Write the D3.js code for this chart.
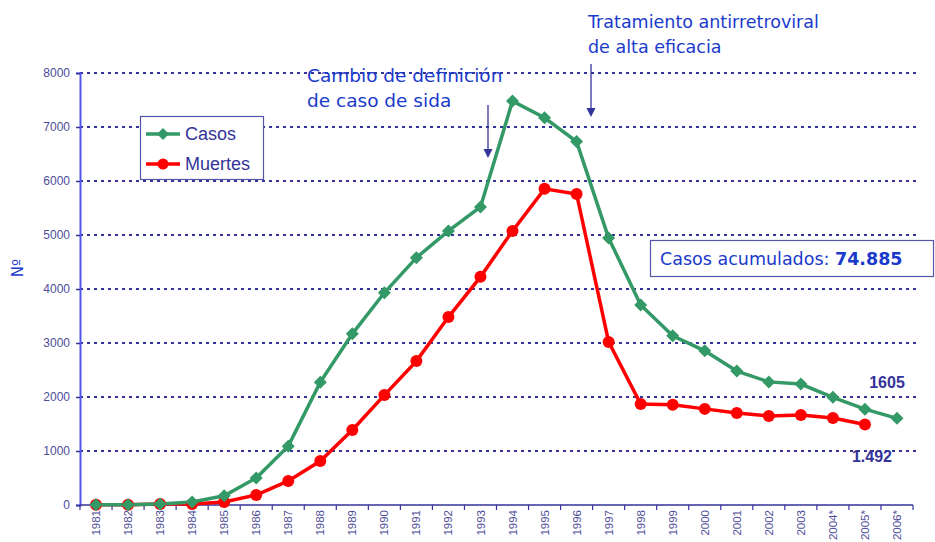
<!DOCTYPE html>
<html><head><meta charset="utf-8">
<script src="https://cdn.jsdelivr.net/npm/d3@7"></script>
<style>body{margin:0;background:#fff;}svg{display:block;}</style>
</head><body>
<script>
const years = ["1981","1982","1983","1984","1985","1986","1987","1988","1989","1990","1991","1992","1993","1994","1995","1996","1997","1998","1999","2000","2001","2002","2003","2004*","2005*","2006*"];
const casos = [5,5,20,55,170,500,1090,2275,3170,3930,4580,5075,5520,7480,7170,6730,4945,3705,3135,2855,2480,2280,2240,1995,1775,1605];
const muertes = [5,5,20,20,55,185,445,815,1390,2035,2665,3480,4225,5075,5855,5760,3020,1870,1855,1780,1705,1650,1668,1612,1492,null];
const yTicks = [0,1000,2000,3000,4000,5000,6000,7000,8000];

const W=935,H=542;
const svg=d3.select("body").append("svg").attr("width",W).attr("height",H);
const x=d3.scaleBand().domain(years).range([80,913]);
const y=d3.scaleLinear().domain([0,8000]).range([505,73]);
const gridC="#333399", labC="#4d4d99";

// gridlines
svg.append("g").selectAll("line").data(yTicks.filter(d=>d>0)).join("line")
 .attr("x1",80).attr("x2",918).attr("y1",d=>y(d)).attr("y2",d=>y(d))
 .attr("stroke",gridC).attr("stroke-width",2).attr("stroke-dasharray","3,4");

// y axis
const ya=svg.append("g").attr("transform","translate(80,0)").call(d3.axisLeft(y).tickValues(yTicks).tickSize(4).tickPadding(6).tickFormat(d3.format("d")));
ya.select(".domain").attr("stroke","#5555ee").attr("stroke-width",2);
ya.selectAll(".tick line").attr("stroke",gridC).attr("stroke-width",1.5);
ya.selectAll("text").attr("fill",labC).attr("font-family","Liberation Sans, Arial").attr("font-size",12);

// x axis
const xa=svg.append("g").attr("transform","translate(0,505)").call(d3.axisBottom(x).tickSize(0).tickPadding(0));
xa.select(".domain").remove();
svg.append("line").attr("x1",80).attr("x2",913).attr("y1",505).attr("y2",505).attr("stroke",gridC).attr("stroke-width",1.5);
svg.append("g").selectAll("line").data(years.concat(["end"])).join("line")
 .attr("x1",(d,i)=>80+i*x.step()).attr("x2",(d,i)=>80+i*x.step()).attr("y1",505).attr("y2",510)
 .attr("stroke",gridC).attr("stroke-width",1.2);
xa.selectAll("text").attr("fill",labC).attr("font-family","Liberation Sans, Arial").attr("font-size",11.5)
 .attr("transform","rotate(-90)").attr("text-anchor","end").attr("dx","-5px").attr("dy","0.35em").attr("y",0).attr("x",0);

// Nº
svg.append("text").attr("transform","translate(23,268) rotate(-90)").attr("text-anchor","middle")
 .attr("fill","#1a3acc").attr("font-family","DejaVu Sans, Verdana").attr("font-size",15).text("Nº");

const cx=d=>x(d)+x.bandwidth()/2;
const line=d3.line().defined(d=>d[1]!=null).x(d=>cx(d[0])).y(d=>y(d[1]));
const green="#339966", red="#ff0000";
svg.append("path").datum(years.map((d,i)=>[d,muertes[i]])).attr("d",line).attr("fill","none").attr("stroke",red).attr("stroke-width",3.5);
svg.append("path").datum(years.map((d,i)=>[d,casos[i]])).attr("d",line).attr("fill","none").attr("stroke",green).attr("stroke-width",3.5);
svg.append("g").selectAll("circle").data(years.map((d,i)=>[d,muertes[i]]).filter(d=>d[1]!=null)).join("circle")
 .attr("cx",d=>cx(d[0])).attr("cy",d=>y(d[1])).attr("r",6).attr("fill",red);
svg.append("g").selectAll("path").data(years.map((d,i)=>[d,casos[i]])).join("path")
 .attr("d","M0,-6.5L6.5,0L0,6.5L-6.5,0Z").attr("transform",d=>`translate(${cx(d[0])},${y(d[1])})`).attr("fill",green);

// legend
const lg=svg.append("g");
lg.append("rect").attr("x",140.5).attr("y",116.5).attr("width",123).attr("height",63).attr("fill","#fff").attr("stroke","#5555aa").attr("stroke-width",1.2);
lg.append("line").attr("x1",146).attr("x2",180).attr("y1",134).attr("y2",134).attr("stroke",green).attr("stroke-width",3.5);
lg.append("path").attr("d","M0,-6L6,0L0,6L-6,0Z").attr("transform","translate(163,134)").attr("fill",green);
lg.append("line").attr("x1",146).attr("x2",180).attr("y1",164).attr("y2",164).attr("stroke",red).attr("stroke-width",3.5);
lg.append("circle").attr("cx",163).attr("cy",164).attr("r",5.5).attr("fill",red);
lg.append("text").attr("x",185).attr("y",140).attr("fill","#333399").attr("font-family","Liberation Sans, Arial").attr("font-size",18).text("Casos");
lg.append("text").attr("x",185).attr("y",170).attr("fill","#333399").attr("font-family","Liberation Sans, Arial").attr("font-size",18).text("Muertes");

// annotations
const annC="#1a3acc", ff="DejaVu Sans, Verdana";
function ann(xp,yp,lines,fs){const t=svg.append("text").attr("fill",annC).attr("font-family",ff).attr("font-size",fs);
 lines.forEach((l,i)=>t.append("tspan").attr("x",xp).attr("y",yp+i*25).text(l));}
ann(307,82,["Cambio de definición","de caso de sida"],18.5);
ann(588,28,["Tratamiento antirretroviral","de alta eficacia"],17.5);
function arrow(xp,y1,y2){
 svg.append("line").attr("x1",xp).attr("x2",xp).attr("y1",y1).attr("y2",y2-6).attr("stroke","#333399").attr("stroke-width",1.3);
 svg.append("path").attr("d",`M${xp-4.5},${y2-9}L${xp+4.5},${y2-9}L${xp},${y2}Z`).attr("fill","#333399");
}
arrow(488,105,158);
arrow(591,64,117);

// box
svg.append("rect").attr("x",650.5).attr("y",240.5).attr("width",283).attr("height",36).attr("fill","#fff").attr("stroke","#5555aa").attr("stroke-width",1.2);
const bt=svg.append("text").attr("x",660).attr("y",265).attr("fill",annC).attr("font-family",ff).attr("font-size",17.5);
bt.append("tspan").text("Casos acumulados: ");
bt.append("tspan").attr("font-weight","bold").text("74.885");

// end labels
svg.append("text").attr("x",887).attr("y",388).attr("text-anchor","middle").attr("fill","#333399").attr("font-family","Liberation Sans, Arial").attr("font-weight","bold").attr("font-size",16).text("1605");
svg.append("text").attr("x",872).attr("y",462).attr("text-anchor","middle").attr("fill","#333399").attr("font-family","Liberation Sans, Arial").attr("font-weight","bold").attr("font-size",16).text("1.492");
</script>
</body></html>
